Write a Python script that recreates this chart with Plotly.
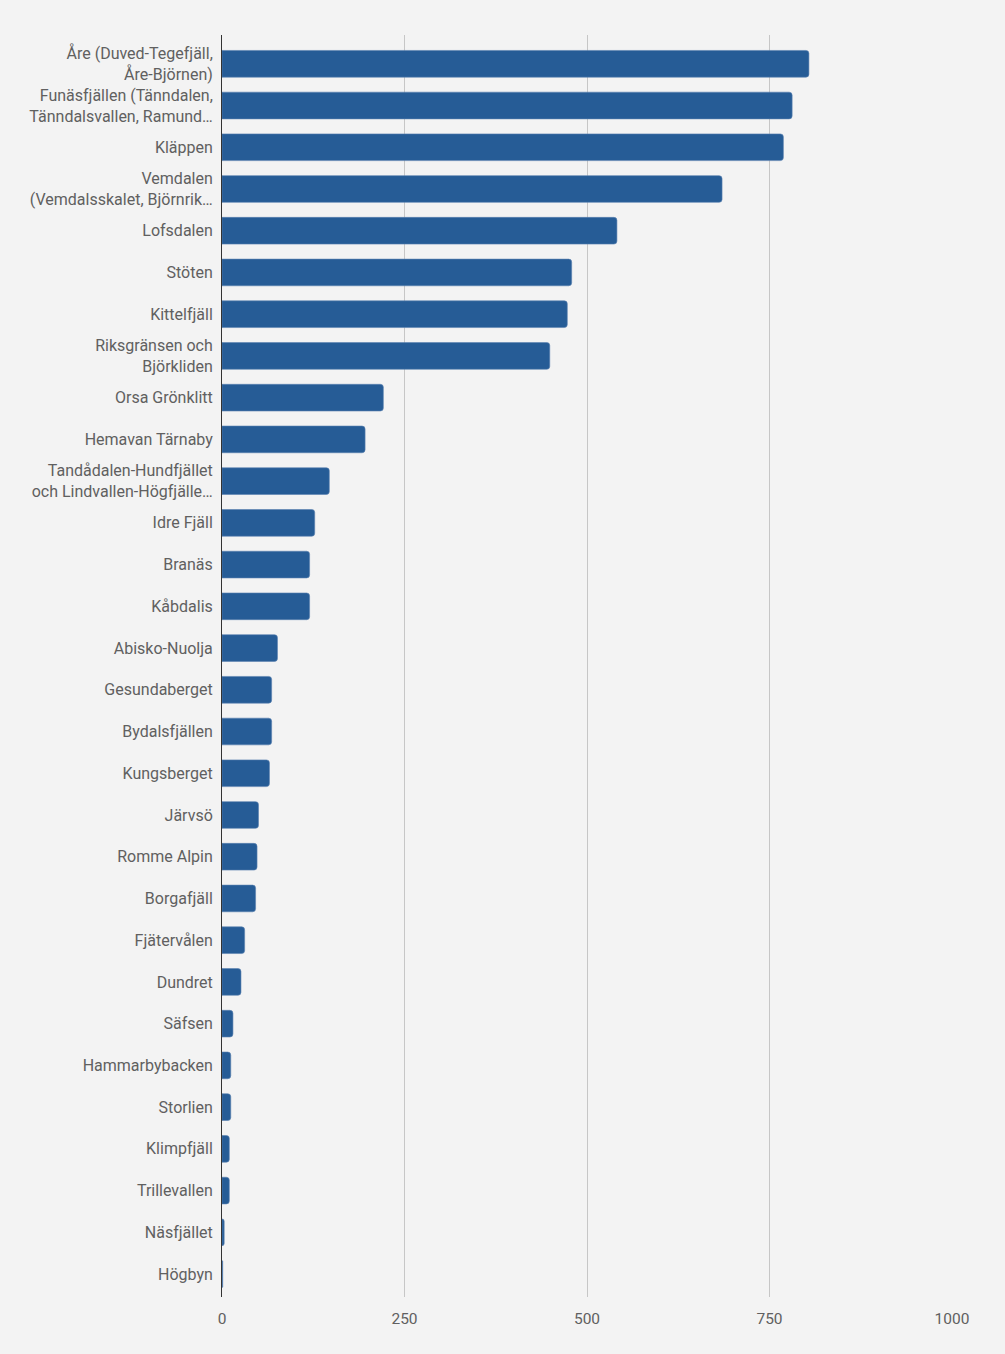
import plotly.graph_objects as go

# ski resorts, in the order shown top to bottom
resorts = [
    "Åre (Duved-Tegefjäll,<br>Åre-Björnen)",
    "Funäsfjällen (Tänndalen,<br>Tänndalsvallen, Ramund…",
    "Kläppen",
    "Vemdalen<br>(Vemdalsskalet, Björnrik…",
    "Lofsdalen",
    "Stöten",
    "Kittelfjäll",
    "Riksgränsen och<br>Björkliden",
    "Orsa Grönklitt",
    "Hemavan Tärnaby",
    "Tandådalen-Hundfjället<br>och Lindvallen-Högfjälle…",
    "Idre Fjäll",
    "Branäs",
    "Kåbdalis",
    "Abisko-Nuolja",
    "Gesundaberget",
    "Bydalsfjällen",
    "Kungsberget",
    "Järvsö",
    "Romme Alpin",
    "Borgafjäll",
    "Fjätervålen",
    "Dundret",
    "Säfsen",
    "Hammarbybacken",
    "Storlien",
    "Klimpfjäll",
    "Trillevallen",
    "Näsfjället",
    "Högbyn",
]
values = [804, 781, 769, 685, 541, 479, 473, 449, 221, 196, 147, 127, 120, 120,
          76, 68, 68, 65, 50, 48, 46, 31, 26, 15, 12, 12, 10, 10, 3, 1]
x_ticks = [0, 250, 500, 750, 1000]

fig = go.Figure()
fig.add_trace(go.Bar(
    y=resorts,
    x=values,
    orientation="h",
    marker=dict(color="#265c96", cornerradius=3,
                line=dict(color="#5a82b0", width=0.6)),
))

fig.update_layout(
    width=1005,
    height=1354,
    paper_bgcolor="#f3f3f3",
    plot_bgcolor="#f3f3f3",
    margin=dict(l=222, r=53, t=35, b=57),
    bargap=0.36,
    showlegend=False,
    font=dict(family="Roboto", size=15.5, color="#606060"),
    xaxis=dict(
        range=[0, 1000],
        tickvals=x_ticks,
        showgrid=True,
        gridcolor="#c6c6c6",
        gridwidth=1,
        zeroline=False,
        ticks="",
        ticklabelstandoff=10,
        tickfont=dict(size=15.5, color="#606060"),
    ),
    yaxis=dict(
        type="category",
        range=[29.55, -0.69],
        showline=True,
        linecolor="#333333",
        linewidth=1,
        ticks="",
        ticklabelstandoff=5,
        showgrid=False,
        tickfont=dict(size=16, color="#606060"),
    ),
)

# drop the page's default body margin so the figure sits at the corner
fig.write_html("out.html", config={"displayModeBar": False},
               post_script="document.body.style.margin='0';")
